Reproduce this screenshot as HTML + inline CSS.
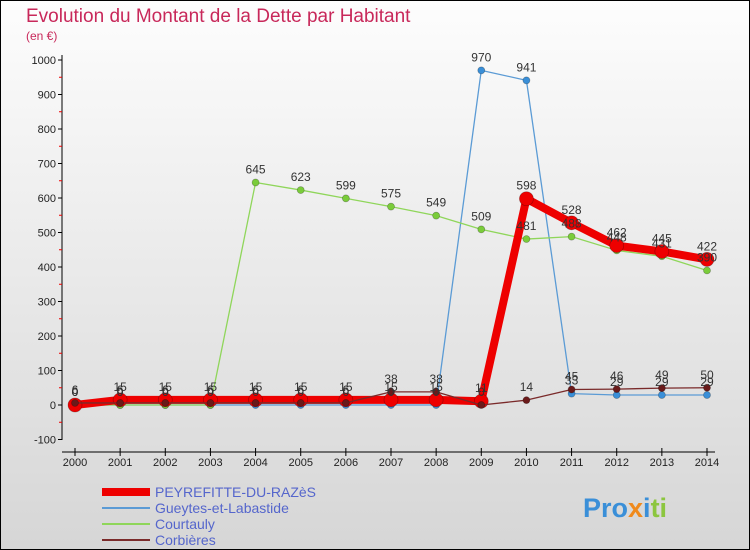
<!DOCTYPE html>
<html><head><meta charset="utf-8"><style>
body{margin:0}
#wrap{width:750px;height:550px;position:relative;background:linear-gradient(#fdfdfd,#d6d6d6);box-sizing:border-box;border:1px solid #000;overflow:hidden;font-family:"Liberation Sans",sans-serif}
</style></head><body>
<div id="wrap">
<svg id="chart" width="750" height="550" style="position:absolute;left:-1px;top:-1px">
<text x="26" y="22" font-size="19" fill="#c8285a">Evolution du Montant de la Dette par Habitant</text>
<text x="26" y="40" font-size="12" fill="#c8285a">(en €)</text>
<g id="axes"></g><g id="series"></g><g id="labels"></g>
<g>
<line x1="102" y1="492" x2="150" y2="492" stroke="#e00" stroke-width="8"/>
<text x="155" y="497" font-size="14" fill="#5566cc">PEYREFITTE-DU-RAZèS</text>
<line x1="102" y1="508" x2="150" y2="508" stroke="#5b9bd5" stroke-width="2"/>
<text x="155" y="513" font-size="14" fill="#5566cc">Gueytes-et-Labastide</text>
<line x1="102" y1="524" x2="150" y2="524" stroke="#8fd65a" stroke-width="2"/>
<text x="155" y="529" font-size="14" fill="#5566cc">Courtauly</text>
<line x1="102" y1="540" x2="150" y2="540" stroke="#7a2a2a" stroke-width="2"/>
<text x="155" y="545" font-size="14" fill="#5566cc">Corbières</text>
</g>
<text x="583" y="517" font-size="27" font-weight="bold"><tspan fill="#3a8fd8">Pro</tspan><tspan fill="#f08a1c">x</tspan><tspan fill="#3a8fd8">i</tspan><tspan fill="#8cc63f">ti</tspan></text>
</svg>
</div>
<script>
const years=[2000,2001,2002,2003,2004,2005,2006,2007,2008,2009,2010,2011,2012,2013,2014];
const yTicks=[-100,0,100,200,300,400,500,600,700,800,900,1000];
const peyrefitte=[0,15,15,15,15,15,15,15,15,11,598,528,462,445,422];
const gueytes=[0,0,0,0,0,0,0,0,0,970,941,33,29,29,29];
const courtauly=[0,0,0,0,645,623,599,575,549,509,481,488,448,431,390];
const corbieres=[6,6,6,6,6,6,6,38,38,0,14,45,46,49,50];
const NS="http://www.w3.org/2000/svg";
function X(i){return 75+i*(707-75)/14;}
function Y(v){return 405-v*0.345;}
function mk(tag,attrs,parent){const e=document.createElementNS(NS,tag);for(const k in attrs)e.setAttribute(k,attrs[k]);parent.appendChild(e);return e;}
const ax=document.getElementById('axes');
let a=mk('line',{x1:62,y1:55,x2:62,y2:440,stroke:'#000'},ax);


a=mk('line',{x1:62,y1:452,x2:715,y2:452,stroke:'#000'},ax);


yTicks.forEach(v=>{
 mk('line',{x1:58,y1:Y(v),x2:62,y2:Y(v),stroke:'#000'},ax);
 if(v<1000) mk('line',{x1:59,y1:Y(v+50),x2:62,y2:Y(v+50),stroke:'#e00'},ax);
 const t=mk('text',{x:56,y:Y(v)+4,'font-size':11,'text-anchor':'end',fill:'#222'},ax);
 t.textContent=v;
 
 
});
years.forEach((y,i)=>{
 mk('line',{x1:X(i),y1:448,x2:X(i),y2:456,stroke:'#000'},ax);
 const t=mk('text',{x:X(i),y:466,'font-size':11,'text-anchor':'middle',fill:'#222'},ax);
 t.textContent=y;
 
 
});
const sg=document.getElementById('series'),lg=document.getElementById('labels');
function draw(data,name,color,w,r,dot){
 const p=mk('polyline',{points:data.map((v,i)=>X(i)+','+Y(v)).join(' '),fill:'none',stroke:color,'stroke-width':w,'stroke-linejoin':'round'},sg);
 
 
 data.forEach((v,i)=>{
  const c=mk('circle',{cx:X(i),cy:Y(v),r:r,fill:dot,stroke:'rgba(0,0,0,0.3)','stroke-width':0.7},sg);
  
  
  const t=mk('text',{x:X(i),y:Y(v)-9,'font-size':12,'text-anchor':'middle',fill:'#333'},lg);
  t.textContent=v;
  
  
 });
}
draw(gueytes,'gueytes','#5b9bd5',1.3,3.5,'#3a8fd8');
draw(courtauly,'courtauly','#8fd65a',1.3,3.5,'#7acc3a');
draw(peyrefitte,'peyrefitte','#e00',8,7,'#e00');
draw(corbieres,'corbieres','#7a2a2a',1.3,3.5,'#6a1a1a');
</script>
</body></html>
